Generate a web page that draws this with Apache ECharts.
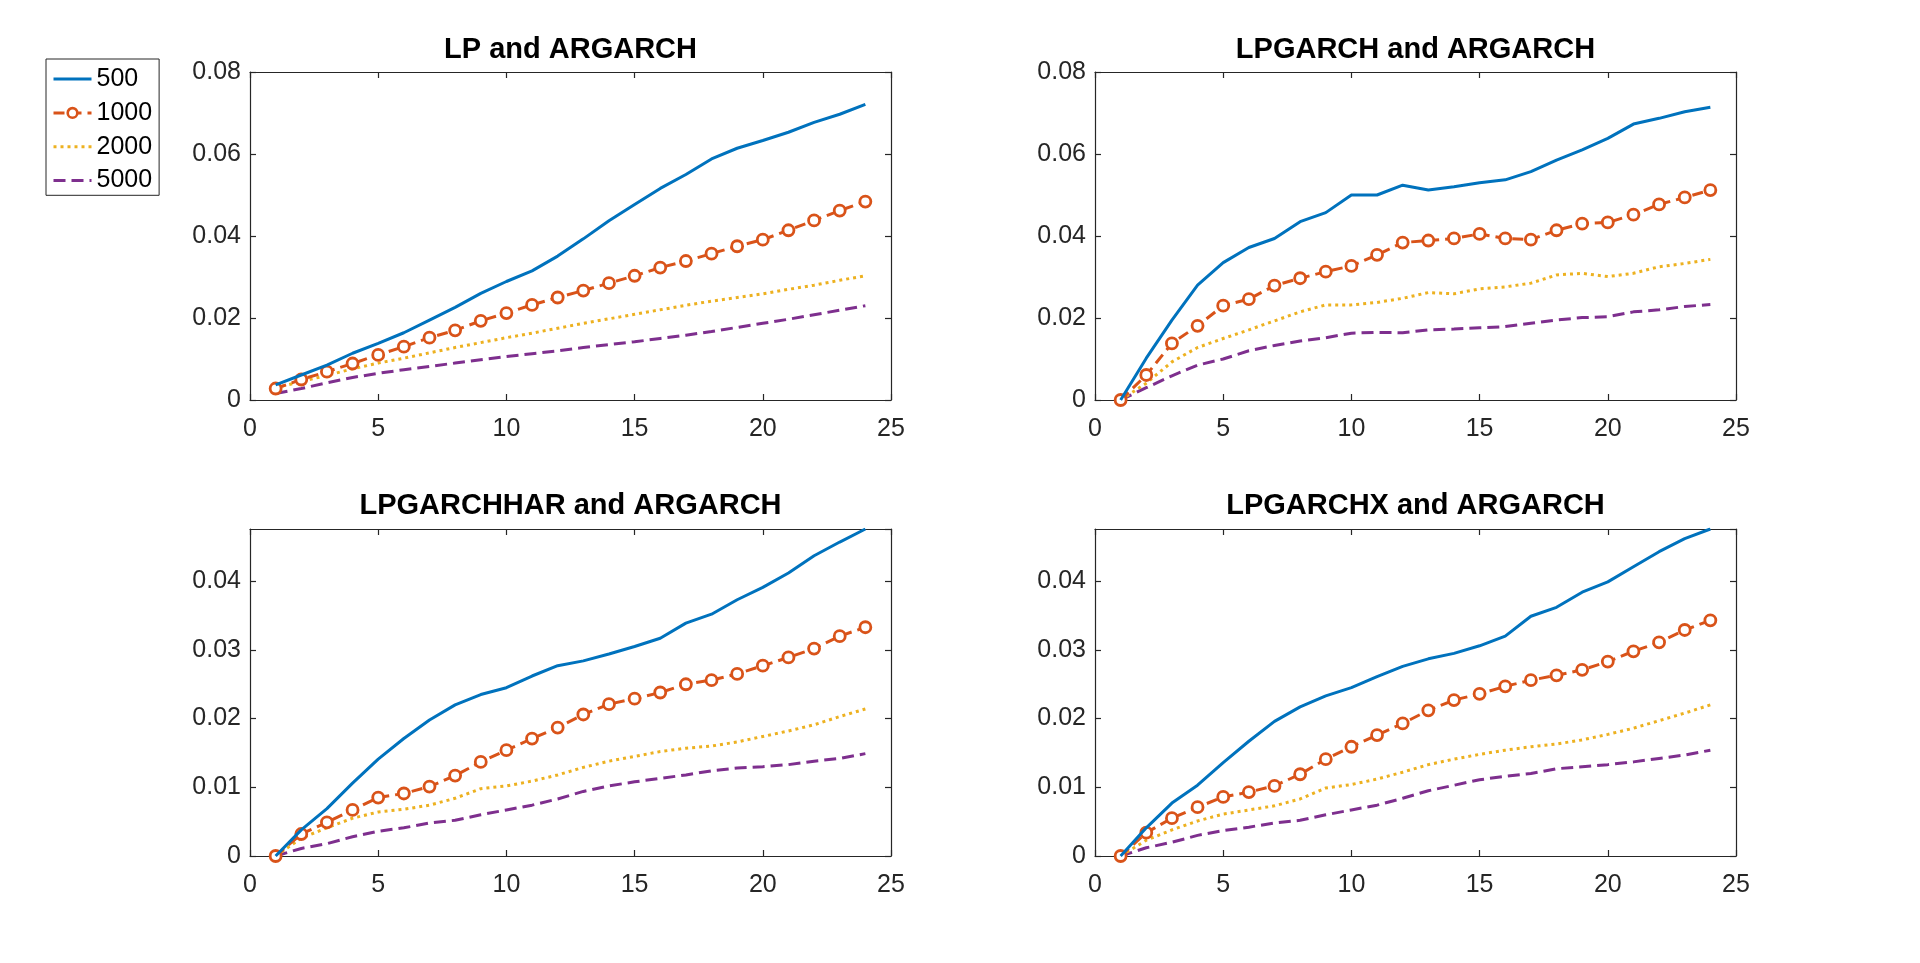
<!DOCTYPE html>
<html>
<head>
<meta charset="utf-8">
<script src="https://cdn.jsdelivr.net/npm/echarts@6/dist/echarts.min.js"></script>
<style>html,body{margin:0;padding:0;background:#fff;}#c{width:1920px;height:963px;}</style>
</head>
<body>
<div id="c"></div>
<script>
const horizons = [1,2,3,4,5,6,7,8,9,10,11,12,13,14,15,16,17,18,19,20,21,22,23,24];
const seriesNames = ['500','1000','2000','5000'];
const panelTitles = ['LP and ARGARCH','LPGARCH and ARGARCH','LPGARCHHAR and ARGARCH','LPGARCHX and ARGARCH'];
const xTicks = [0,5,10,15,20,25];
const yTicksTop = [0,0.02,0.04,0.06,0.08];
const yTicksBottom = [0,0.01,0.02,0.03,0.04];

// LP and ARGARCH
const lp500  = [0.0037,0.0061,0.0085,0.0114,0.0138,0.0164,0.0195,0.0226,0.0260,0.0289,0.0315,0.0351,0.0393,0.0437,0.0477,0.0516,0.0550,0.0588,0.0614,0.0633,0.0653,0.0677,0.0697,0.0721];
const lp1000 = [0.0028,0.0050,0.0069,0.0089,0.0110,0.0130,0.0152,0.0170,0.0193,0.0212,0.0232,0.0250,0.0267,0.0285,0.0303,0.0323,0.0339,0.0357,0.0375,0.0391,0.0414,0.0438,0.0462,0.0484];
const lp2000 = [0.0030,0.0045,0.0060,0.0076,0.0090,0.0102,0.0115,0.0128,0.0140,0.0152,0.0163,0.0175,0.0187,0.0198,0.0209,0.0220,0.0231,0.0241,0.0250,0.0259,0.0270,0.0280,0.0292,0.0303];
const lp5000 = [0.0016,0.0028,0.0042,0.0055,0.0065,0.0074,0.0082,0.0090,0.0098,0.0106,0.0113,0.0120,0.0128,0.0135,0.0142,0.0150,0.0158,0.0167,0.0177,0.0187,0.0197,0.0208,0.0219,0.0230];
// LPGARCH and ARGARCH
const lpg500  = [0,0.0102,0.0195,0.0280,0.0335,0.0372,0.0394,0.0435,0.0457,0.0500,0.0500,0.0524,0.0512,0.0520,0.0530,0.0537,0.0557,0.0585,0.0610,0.0638,0.0673,0.0687,0.0703,0.0714];
const lpg1000 = [0,0.0061,0.0138,0.0181,0.0230,0.0246,0.0279,0.0297,0.0313,0.0327,0.0354,0.0384,0.0389,0.0394,0.0405,0.0394,0.0391,0.0414,0.0430,0.0433,0.0452,0.0477,0.0494,0.0512];
const lpg2000 = [0,0.0041,0.0093,0.0128,0.0150,0.0171,0.0193,0.0215,0.0232,0.0232,0.0238,0.0248,0.0262,0.0259,0.0271,0.0276,0.0285,0.0305,0.0309,0.0301,0.0309,0.0325,0.0333,0.0343];
const lpg5000 = [0,0.0030,0.0059,0.0085,0.0100,0.0120,0.0133,0.0144,0.0152,0.0163,0.0165,0.0164,0.0171,0.0173,0.0176,0.0179,0.0187,0.0195,0.0201,0.0203,0.0215,0.0220,0.0228,0.0233];
// LPGARCHHAR and ARGARCH
const lph500  = [0,0.0038,0.0069,0.0106,0.0141,0.0171,0.0198,0.0220,0.0235,0.0245,0.0262,0.0277,0.0284,0.0294,0.0305,0.0317,0.0339,0.0352,0.0373,0.0391,0.0412,0.0437,0.0457,0.0476];
const lph1000 = [0,0.0032,0.0049,0.0067,0.0085,0.0091,0.0101,0.0117,0.0137,0.0154,0.0171,0.0187,0.0206,0.0221,0.0229,0.0238,0.0250,0.0256,0.0265,0.0277,0.0289,0.0302,0.0320,0.0333];
const lph2000 = [0,0.0026,0.0041,0.0055,0.0064,0.0068,0.0074,0.0084,0.0098,0.0102,0.0109,0.0118,0.0129,0.0138,0.0145,0.0152,0.0157,0.0160,0.0166,0.0174,0.0182,0.0191,0.0203,0.0214];
const lph5000 = [0,0.0011,0.0018,0.0028,0.0036,0.0041,0.0048,0.0052,0.0060,0.0067,0.0074,0.0083,0.0094,0.0102,0.0108,0.0113,0.0118,0.0124,0.0128,0.0130,0.0133,0.0138,0.0142,0.0149];
// LPGARCHX and ARGARCH
const lpx500  = [0,0.0041,0.0077,0.0103,0.0136,0.0167,0.0196,0.0217,0.0233,0.0245,0.0261,0.0276,0.0287,0.0295,0.0306,0.0320,0.0349,0.0362,0.0384,0.0399,0.0421,0.0443,0.0462,0.0476];
const lpx1000 = [0,0.0034,0.0055,0.0071,0.0086,0.0093,0.0102,0.0119,0.0141,0.0159,0.0176,0.0193,0.0212,0.0227,0.0236,0.0247,0.0256,0.0263,0.0271,0.0283,0.0298,0.0311,0.0329,0.0343];
const lpx2000 = [0,0.0023,0.0038,0.0051,0.0061,0.0067,0.0073,0.0083,0.0099,0.0104,0.0112,0.0122,0.0133,0.0141,0.0148,0.0154,0.0159,0.0163,0.0169,0.0177,0.0186,0.0197,0.0208,0.0220];
const lpx5000 = [0,0.0012,0.0020,0.0030,0.0037,0.0042,0.0048,0.0052,0.0060,0.0067,0.0074,0.0084,0.0095,0.0103,0.0111,0.0116,0.0120,0.0127,0.0130,0.0133,0.0137,0.0142,0.0147,0.0154];

const panelData = [
  [lp500, lp1000, lp2000, lp5000],
  [lpg500, lpg1000, lpg2000, lpg5000],
  [lph500, lph1000, lph2000, lph5000],
  [lpx500, lpx1000, lpx2000, lpx5000]
];
const yMaxes = [0.08, 0.08, 0.0476, 0.0476];
const yTickSets = [yTicksTop, yTicksTop, yTicksBottom, yTicksBottom];

const FONT = "'Liberation Sans', Arial, Helvetica, sans-serif";
const AX = '#262626';
const colors = ['#0072BD','#D95319','#EDB120','#7E2F8E'];
const gridsPx = [
  {left:250, top:72, width:641, height:328},
  {left:1095, top:72, width:641, height:328},
  {left:250, top:529, width:641, height:327},
  {left:1095, top:529, width:641, height:327}
];

const grids = [], xAxes = [], yAxes = [], series = [], graphics = [];
gridsPx.forEach((g, i) => {
  grids.push(Object.assign({containLabel:false}, g));
  const baseAxisLine = {show:true, onZero:false, lineStyle:{color:AX, width:1.2}};
  const tick = {show:true, inside:true, length:6, lineStyle:{color:AX, width:1.2}};
  xAxes.push({gridIndex:i, type:'value', min:0, max:25, interval:5, position:'bottom',
    axisLine:baseAxisLine, axisTick:tick, splitLine:{show:false},
    axisLabel:{color:AX, fontSize:25, fontFamily:FONT, margin:17,
      formatter: v => xTicks.indexOf(v) >= 0 ? String(v) : ''}});
  xAxes.push({gridIndex:i, type:'value', min:0, max:25, interval:5, position:'top',
    axisLine:baseAxisLine, axisTick:tick, splitLine:{show:false}, axisLabel:{show:false}});
  const ticks = yTickSets[i];
  const ymax = yMaxes[i];
  yAxes.push({gridIndex:i, type:'value', min:0, max:ymax, interval: ticks[1], position:'left',
    axisLine:baseAxisLine, axisTick:tick, splitLine:{show:false},
    axisLabel:{color:AX, fontSize:25, fontFamily:FONT, margin:9, showMaxLabel: ymax === ticks[ticks.length-1],
      formatter: v => { const m = ticks.find(t => Math.abs(t - v) < 1e-9); return m === undefined ? '' : String(m); }}});
  yAxes.push({gridIndex:i, type:'value', min:0, max:ymax, interval: ticks[1], position:'right',
    axisLine:baseAxisLine, axisTick:tick, splitLine:{show:false}, axisLabel:{show:false}});
  panelData[i].forEach((arr, s) => {
    const ser = {
      name: seriesNames[s], type:'line', xAxisIndex:2*i, yAxisIndex:2*i,
      data: horizons.map((h, k) => [h, arr[k]]),
      color: colors[s], animation:false, silent:true, z: 10 - s,
      lineStyle:{color:colors[s], width:3}
    };
    if (s === 0) { ser.symbol = 'none'; }
    if (s === 1) {
      ser.symbol = 'circle'; ser.symbolSize = 11; ser.showSymbol = true;
      ser.itemStyle = {color:'#ffffff', borderColor:colors[1], borderWidth:2.8};
      ser.lineStyle.type = [11, 6];
    }
    if (s === 2) { ser.symbol = 'none'; ser.lineStyle.type = [3, 4]; }
    if (s === 3) { ser.symbol = 'none'; ser.lineStyle.type = [12, 6]; }
    series.push(ser);
  });
  graphics.push({type:'text', x: g.left + g.width/2, y: (i < 2 ? 50 : 506),
    style:{text: panelTitles[i], fill:'#000', font: "bold 29px " + FONT, textAlign:'center', textVerticalAlign:'middle'}});
});

const hiddenSymbol = {color:'rgba(0,0,0,0)', borderColor:'rgba(0,0,0,0)', borderWidth:0, opacity:0};
const legendData = seriesNames.map((n, s) => {
  const item = {name:n, lineStyle:{width:3}};
  if (s === 1) item.itemStyle = {color:'#ffffff', borderColor:colors[1], borderWidth:2.6};
  else item.itemStyle = hiddenSymbol;
  return item;
});

const chart = echarts.init(document.getElementById('c'), null, {renderer:'canvas'});
chart.setOption({
  backgroundColor:'#ffffff',
  animation:false,
  grid: grids, xAxis: xAxes, yAxis: yAxes, series: series,
  graphic: graphics,
  legend: {
    data: legendData, orient:'vertical', left:46, top:59,
    itemWidth:38, itemHeight:12, itemGap:8.8,
    padding:[7.6, 7, 2.3, 6],
    borderColor:AX, borderWidth:1, backgroundColor:'#fff',
    selectedMode:false,
    textStyle:{color:'#000', fontSize:25, fontFamily:FONT, lineHeight:12}
  }
});
</script>
</body>
</html>
